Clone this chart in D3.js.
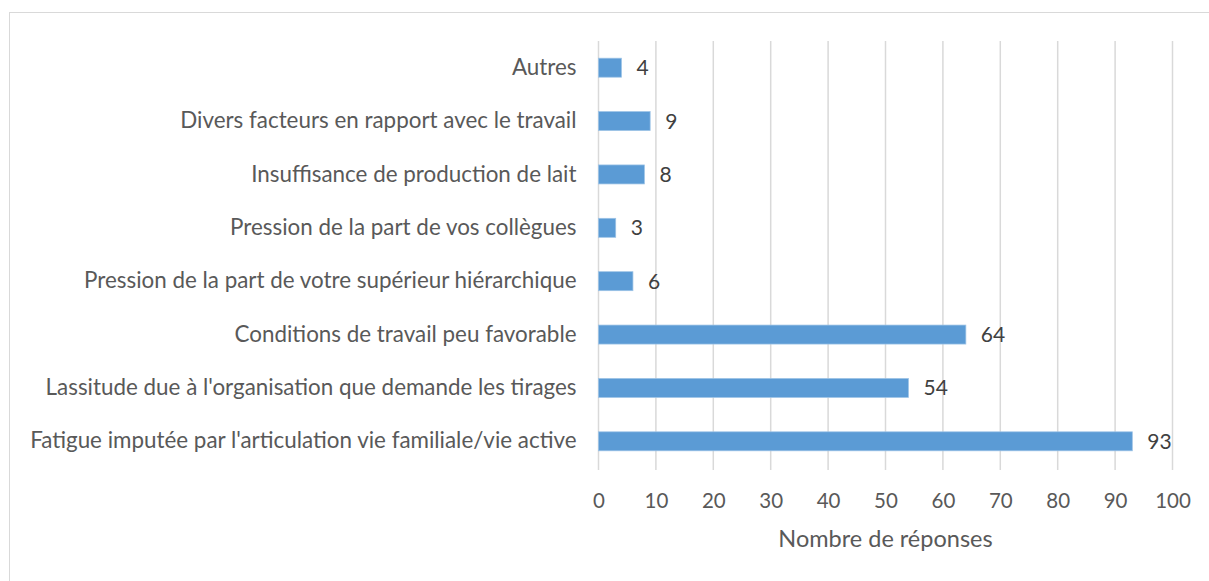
<!DOCTYPE html>
<html lang="fr">
<head>
<meta charset="UTF-8">
<title>Nombre de réponses</title>
<script src="https://d3js.org/d3.v7.min.js"></script>
<style>
  body { margin: 0; background: #fff; }
  svg { font-family: Lato, "Open Sans", sans-serif; }
  .cat text { fill: #595959; font-size: 22.4px; }
  .tick-label { fill: #595959; font-size: 20.5px; }
  .val { fill: #404040; font-size: 21px; }
  .title { fill: #595959; font-size: 23.5px; }
</style>
</head>
<body>
<svg width="1209" height="581"></svg>
<script>
// data, top to bottom
const categories = [
  "Autres",
  "Divers facteurs en rapport avec le travail",
  "Insuffisance de production de lait",
  "Pression de la part de vos collègues",
  "Pression de la part de votre supérieur hiérarchique",
  "Conditions de travail peu favorable",
  "Lassitude due à l'organisation que demande les tirages",
  "Fatigue imputée par l'articulation vie familiale/vie active"
];
const values = [4, 9, 8, 3, 6, 64, 54, 93];
const xTicks = [0, 10, 20, 30, 40, 50, 60, 70, 80, 90, 100];

const svg = d3.select("svg");

// chart border
svg.append("rect")
  .attr("x", 9.5).attr("y", 12.5)
  .attr("width", 1300).attr("height", 700)
  .attr("fill", "none").attr("stroke", "#d9d9d9").attr("stroke-width", 1);

const plotL = 598.5, plotR = 1172.5, plotT = 41, plotB = 468;

const x = d3.scaleLinear().domain([0, 100]).range([plotL, plotR]);
const y = d3.scaleBand().domain(categories).range([plotT, plotB])
  .paddingInner(0.644).paddingOuter(0.322);

// gridlines
svg.append("g").selectAll("line").data(xTicks).join("line")
  .attr("x1", d => x(d)).attr("x2", d => x(d))
  .attr("y1", plotT).attr("y2", plotB + 2)
  .attr("stroke", "#d9d9d9").attr("stroke-width", 1.5);

// bars
svg.append("g").selectAll("rect").data(values).join("rect")
  .attr("x", x(0))
  .attr("y", (d, i) => y(categories[i]))
  .attr("width", d => x(d) - x(0))
  .attr("height", y.bandwidth())
  .attr("fill", "#5b9bd5")
  .attr("stroke", "#9dc3e6").attr("stroke-width", 0.75);

// value labels
svg.append("g").selectAll("text").data(values).join("text")
  .attr("class", "val")
  .attr("x", d => x(d) + 15)
  .attr("y", (d, i) => y(categories[i]) + y.bandwidth() / 2)
  .attr("dy", "0.36em")
  .text(d => d);

// category axis (no line, no ticks)
const yAxis = svg.append("g").attr("class", "cat")
  .attr("transform", `translate(${plotL},0)`)
  .call(d3.axisLeft(y).tickSize(0).tickPadding(22))
  .attr("font-family", null).attr("font-size", null);
yAxis.select(".domain").remove();

// value axis
const xAxis = svg.append("g")
  .attr("transform", `translate(0,${plotB})`)
  .call(d3.axisBottom(x).tickValues(xTicks).tickSize(0).tickPadding(25))
  .attr("font-family", null).attr("font-size", null);
xAxis.select(".domain").remove();
xAxis.selectAll("text").attr("class", "tick-label");

svg.append("text").attr("class", "title")
  .attr("x", (plotL + plotR) / 2).attr("y", 547)
  .attr("text-anchor", "middle")
  .text("Nombre de réponses");
</script>
</body>
</html>
